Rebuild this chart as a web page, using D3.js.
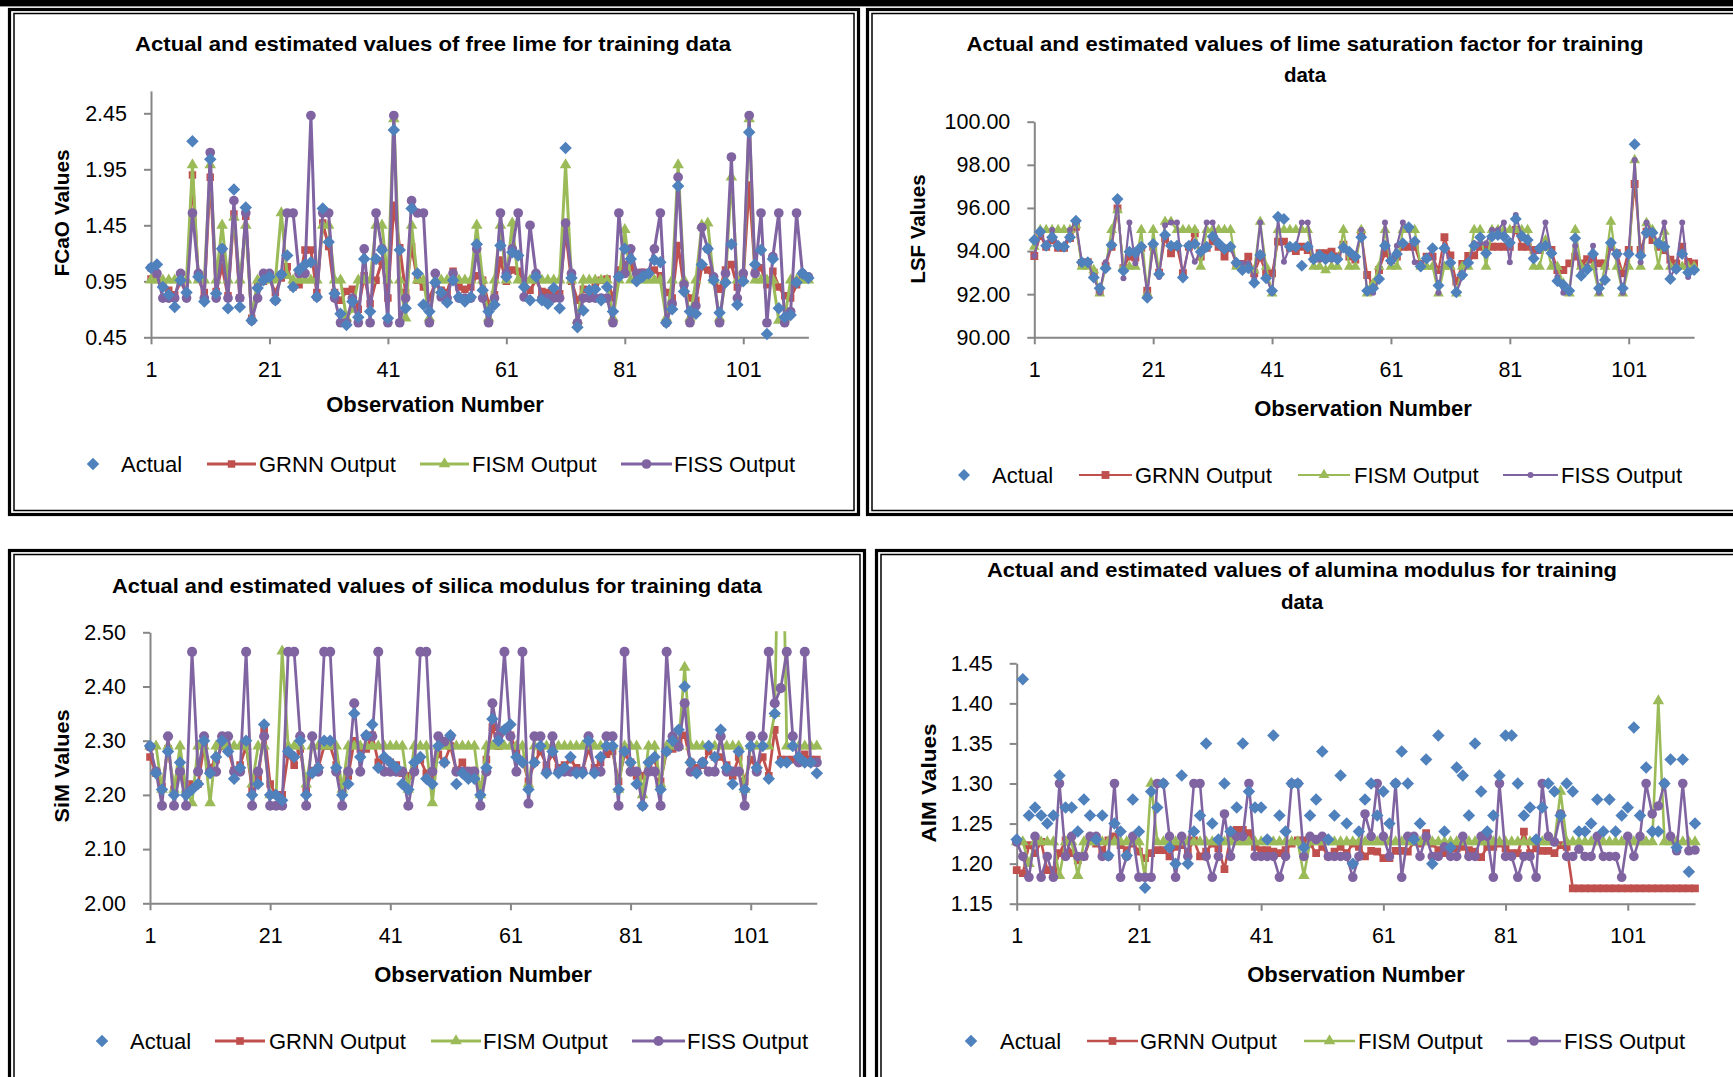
<!DOCTYPE html>
<html>
<head>
<meta charset="utf-8">
<title>Actual and estimated values for training data</title>
<script src="https://cdn.jsdelivr.net/npm/d3@7/dist/d3.min.js"></script>
<style>
  html, body { margin: 0; padding: 0; background: #ffffff; }
  svg { display: block; }
  text { font-family: "Liberation Sans", Arial, sans-serif; fill: #000; }
</style>
</head>
<body>
<svg id="chart" width="1733" height="1077"></svg>
<script>
// ---------------------------------------------------------------
// Categories: observation numbers 1..112
// ---------------------------------------------------------------
const observations = d3.range(1, 113);
const xTickValues = [1, 21, 41, 61, 81, 101];
const seriesNames = ["Actual", "GRNN Output", "FISM Output", "FISS Output"];

// ---------------------------------------------------------------
// Free lime (FCaO)
// ---------------------------------------------------------------
const fcaoTicks = [0.45, 0.95, 1.45, 1.95, 2.45];
const fcaoActual = [
  1.07,1.10,0.90,0.83,0.72,0.96,0.85,2.20,0.99,0.77,
  2.04,0.84,1.24,0.71,1.77,0.72,1.61,0.60,0.89,0.96,
  0.99,0.78,1.01,1.18,0.90,1.05,1.10,1.12,0.81,1.60,
  1.30,0.84,0.66,0.56,0.77,0.63,1.15,0.68,1.15,1.23,
  0.62,2.30,1.23,0.71,1.60,1.02,0.74,0.68,0.94,0.85,
  0.76,0.96,0.81,0.77,0.81,1.28,0.87,0.68,0.74,1.27,
  0.99,1.21,1.18,0.90,0.78,0.99,0.78,0.75,0.89,0.71,
  2.14,0.98,0.54,0.69,0.87,0.88,0.78,0.90,0.68,0.99,
  1.24,1.15,0.95,0.99,1.02,1.14,1.12,0.58,0.70,1.80,
  0.86,0.68,0.66,1.10,1.24,0.96,0.67,0.94,1.28,0.74,
  0.95,2.28,1.10,1.23,0.48,1.15,0.71,0.63,0.65,0.94,
  1.02,0.98];
const fcaoGRNN = [
  0.97,0.99,0.93,0.87,0.83,0.95,0.84,1.90,0.97,0.85,
  1.88,0.86,1.08,0.82,1.55,0.80,1.53,0.62,0.90,0.95,
  0.97,0.85,0.98,1.08,0.90,0.92,1.23,1.23,0.85,1.47,
  1.26,0.85,0.78,0.86,0.88,0.70,1.00,0.75,0.96,1.13,
  0.80,1.63,1.25,0.85,1.26,0.96,0.90,0.80,0.93,0.87,
  0.85,1.04,0.90,0.88,0.90,1.00,0.96,0.75,0.83,1.14,
  0.95,1.05,1.04,0.95,0.87,0.96,0.86,0.85,0.86,0.84,
  1.40,0.95,0.78,0.88,0.86,0.90,0.96,0.97,0.80,1.05,
  1.10,1.08,0.97,1.03,1.02,1.05,1.00,0.85,0.80,1.27,
  0.90,0.80,0.78,1.08,1.05,0.97,0.88,1.05,1.10,0.90,
  0.98,1.81,1.03,1.07,0.92,1.04,0.90,0.82,0.80,0.92,
  0.98,0.97];
const fcaoFISM = [
  0.96,0.96,0.96,0.96,0.96,0.96,0.96,1.99,0.96,0.96,
  1.99,0.96,1.45,0.96,1.52,0.96,1.45,0.62,0.96,0.96,
  0.96,0.96,1.56,1.00,0.96,0.96,0.96,0.96,0.96,1.45,
  1.45,0.96,0.96,0.62,0.70,0.96,0.96,0.96,1.45,1.45,
  0.96,2.40,0.96,0.62,1.45,0.96,0.96,0.62,0.96,0.96,
  0.96,0.96,0.96,0.96,0.96,1.45,0.96,0.62,0.96,1.45,
  0.96,1.47,0.96,0.96,0.96,0.96,0.96,0.96,0.96,0.96,
  1.99,0.96,0.60,0.96,0.96,0.96,0.96,0.96,0.62,0.96,
  1.41,0.96,0.96,0.96,0.96,0.96,0.96,0.62,0.96,1.99,
  0.96,0.62,0.96,1.45,1.47,0.96,0.62,0.96,1.88,0.96,
  0.96,2.40,0.96,0.96,0.96,0.96,0.60,0.62,0.96,0.96,
  0.96,0.96];
const fcaoFISS = [
  1.07,1.02,0.80,0.80,0.80,1.02,0.80,1.56,1.02,0.80,
  2.10,0.80,1.24,0.80,1.67,0.80,1.56,0.60,0.80,1.02,
  1.02,0.78,1.01,1.56,1.56,1.02,1.02,2.43,0.81,1.56,
  1.56,0.80,0.58,0.58,0.80,0.58,1.24,0.58,1.56,1.24,
  0.58,2.43,0.58,0.80,1.67,1.56,1.56,0.58,1.02,0.81,
  0.80,1.02,0.80,0.80,0.80,1.24,0.80,0.58,0.80,1.56,
  1.02,1.24,1.56,0.81,1.45,1.02,0.80,0.80,0.80,0.80,
  1.47,1.02,0.58,0.80,0.80,0.80,0.80,0.80,0.58,1.56,
  1.02,1.24,1.02,1.02,1.02,1.24,1.56,0.58,0.75,1.88,
  0.92,0.58,0.73,1.43,1.24,0.99,0.58,1.02,2.06,0.80,
  1.02,2.43,1.02,1.56,0.58,1.17,1.56,0.58,0.68,1.56,
  1.02,0.99];

// ---------------------------------------------------------------
// Lime saturation factor (LSF)
// ---------------------------------------------------------------
const lsfTicks = [90, 92, 94, 96, 98, 100];
const lsfActual = [
  94.51,94.90,94.25,94.64,94.25,94.20,94.64,95.41,93.48,93.48,
  92.77,92.27,93.20,94.28,96.41,93.09,93.97,93.93,94.20,91.84,
  94.33,92.94,94.75,94.25,94.25,92.77,94.25,94.33,93.97,94.20,
  94.67,94.36,94.10,94.20,93.46,93.12,93.20,92.53,93.82,92.74,
  92.16,95.59,95.49,94.20,94.20,93.32,94.20,93.62,93.82,93.62,
  93.74,93.62,94.17,93.97,93.74,94.64,92.16,92.27,92.70,94.25,
  93.55,93.86,94.36,95.10,94.44,93.28,93.66,94.13,92.40,94.13,
  93.46,92.09,92.89,93.46,94.25,94.64,93.90,94.67,94.75,94.67,
  94.39,95.49,94.70,94.51,93.66,94.13,94.25,93.90,92.61,92.43,
  92.16,94.59,92.86,93.15,93.86,92.27,92.66,94.39,93.86,92.27,
  93.86,98.95,93.79,94.85,94.85,94.36,94.20,92.70,93.17,93.86,
  93.01,93.12];
const lsfGRNN = [
  93.77,94.70,94.20,94.50,94.15,94.15,94.60,95.13,93.45,93.48,
  93.00,92.12,93.30,94.20,95.98,93.20,93.75,93.70,94.15,92.16,
  94.20,93.00,94.60,93.90,94.20,92.97,94.20,94.82,93.75,94.15,
  94.45,94.20,93.74,94.15,93.40,93.40,93.74,92.97,93.70,92.97,
  92.97,94.44,94.44,94.15,94.00,94.20,94.05,93.65,93.90,93.90,
  93.97,93.75,94.30,93.75,93.60,94.82,92.89,92.45,93.12,93.90,
  93.57,93.75,94.20,94.20,94.20,93.40,93.74,93.74,93.12,94.64,
  93.80,92.58,93.40,93.77,93.80,94.20,94.20,94.20,94.20,94.20,
  94.20,94.98,94.20,94.20,94.05,94.05,94.20,94.05,93.12,93.12,
  93.43,93.74,93.43,93.62,93.60,93.43,93.43,94.20,93.90,92.97,
  94.05,97.11,94.05,94.90,94.51,94.20,94.05,93.60,93.43,94.20,
  93.50,93.43];
const lsfFISM = [
  94.20,94.98,94.98,94.98,94.98,94.98,94.98,95.20,93.28,93.28,
  93.12,92.04,93.28,94.98,95.90,93.28,93.28,93.28,94.98,92.04,
  94.98,93.00,95.36,95.36,94.98,94.98,94.98,94.98,93.28,94.98,
  94.98,94.98,94.98,94.98,93.28,93.28,93.28,93.12,95.36,93.28,
  92.04,94.98,94.98,94.98,94.98,94.98,94.98,93.28,93.28,93.12,
  93.28,93.28,94.98,93.28,93.28,94.98,92.04,92.50,93.28,94.98,
  93.28,93.28,94.98,94.98,94.98,93.28,93.28,93.28,92.04,93.28,
  93.28,92.04,93.28,93.28,94.98,94.98,93.28,94.98,94.98,94.98,
  94.98,94.98,94.98,94.98,93.28,93.28,94.50,93.28,93.28,92.50,
  92.04,94.98,93.28,93.28,93.28,92.04,93.28,95.36,93.28,92.04,
  93.28,98.22,93.28,95.30,94.98,93.28,94.90,93.28,93.28,93.28,
  93.28,93.28];
const lsfFISS = [
  93.77,94.90,94.25,94.98,94.25,94.20,94.98,95.35,93.48,93.48,
  92.77,92.07,93.48,94.28,96.30,92.74,95.33,93.43,94.20,92.00,
  94.33,92.80,95.20,95.32,95.32,92.80,94.25,93.50,93.97,95.33,
  95.33,94.36,94.10,94.20,93.46,93.43,93.43,92.70,95.32,92.80,
  92.07,95.50,93.50,94.20,94.20,95.32,95.32,93.60,93.60,93.60,
  93.60,93.60,94.17,93.97,93.74,94.98,92.07,92.07,92.74,95.33,
  93.55,94.25,95.33,94.98,93.48,93.43,93.66,94.13,92.07,94.20,
  93.43,92.07,92.80,93.46,94.36,94.36,94.36,94.98,94.98,95.33,
  93.48,95.67,94.70,94.51,93.74,94.13,95.33,93.90,92.80,92.07,
  92.07,94.25,92.97,93.28,94.25,92.07,92.74,94.25,93.74,92.07,
  93.90,98.22,93.48,95.33,94.82,94.36,95.33,92.80,93.28,95.33,
  92.80,93.09];

// ---------------------------------------------------------------
// Silica modulus (SiM)
// ---------------------------------------------------------------
const simTicks = [2.0, 2.1, 2.2, 2.3, 2.4, 2.5];
const simActual = [
  2.29,2.24,2.21,2.28,2.20,2.26,2.20,2.21,2.22,2.30,
  2.24,2.27,2.30,2.28,2.23,2.25,2.30,2.20,2.22,2.33,
  2.20,2.20,2.19,2.28,2.27,2.30,2.20,2.24,2.25,2.30,
  2.30,2.25,2.20,2.22,2.35,2.27,2.31,2.33,2.25,2.27,
  2.26,2.25,2.22,2.21,2.26,2.27,2.23,2.22,2.29,2.26,
  2.31,2.22,2.24,2.23,2.23,2.20,2.25,2.34,2.30,2.32,
  2.33,2.27,2.26,2.21,2.26,2.29,2.24,2.28,2.24,2.25,
  2.27,2.24,2.24,2.30,2.24,2.27,2.29,2.29,2.21,2.28,
  2.26,2.22,2.18,2.26,2.27,2.21,2.28,2.30,2.32,2.40,
  2.26,2.24,2.26,2.29,2.27,2.32,2.25,2.22,2.28,2.21,
  2.29,2.25,2.29,2.23,2.35,2.26,2.26,2.29,2.27,2.26,
  2.26,2.24];
const simGRNN = [
  2.27,2.24,2.215,2.285,2.21,2.25,2.21,2.22,2.22,2.29,
  2.25,2.265,2.29,2.285,2.245,2.255,2.29,2.21,2.23,2.32,
  2.22,2.20,2.20,2.275,2.255,2.285,2.21,2.245,2.25,2.29,
  2.29,2.255,2.215,2.235,2.30,2.285,2.285,2.31,2.26,2.265,
  2.26,2.255,2.24,2.235,2.255,2.265,2.24,2.235,2.275,2.26,
  2.29,2.245,2.26,2.24,2.245,2.21,2.265,2.325,2.29,2.32,
  2.31,2.28,2.265,2.225,2.26,2.28,2.255,2.275,2.25,2.255,
  2.265,2.25,2.245,2.285,2.25,2.26,2.275,2.28,2.225,2.275,
  2.26,2.235,2.235,2.255,2.265,2.225,2.28,2.285,2.30,2.31,
  2.26,2.25,2.255,2.28,2.27,2.27,2.255,2.235,2.27,2.225,
  2.265,2.25,2.27,2.235,2.32,2.265,2.265,2.265,2.27,2.275,
  2.265,2.265];
const simFISM = [
  2.29,2.29,2.21,2.29,2.21,2.29,2.21,2.185,2.29,2.29,
  2.185,2.29,2.29,2.29,2.29,2.29,2.29,2.22,2.29,2.29,
  2.20,2.20,2.465,2.29,2.29,2.29,2.22,2.29,2.29,2.29,
  2.29,2.29,2.21,2.29,2.29,2.29,2.29,2.29,2.29,2.29,
  2.29,2.29,2.29,2.21,2.29,2.29,2.29,2.185,2.29,2.29,
  2.29,2.29,2.29,2.29,2.29,2.20,2.29,2.29,2.29,2.29,
  2.29,2.29,2.29,2.22,2.29,2.29,2.29,2.29,2.29,2.29,
  2.29,2.29,2.29,2.29,2.29,2.29,2.29,2.29,2.21,2.29,
  2.29,2.29,2.20,2.29,2.29,2.22,2.29,2.29,2.29,2.435,
  2.29,2.29,2.29,2.29,2.29,2.29,2.29,2.29,2.29,2.21,
  2.29,2.29,2.29,2.29,2.35,2.93,2.29,2.29,2.29,2.29,
  2.29,2.29];
const simFISS = [
  2.289,2.243,2.180,2.308,2.180,2.243,2.180,2.464,2.243,2.308,
  2.243,2.243,2.308,2.308,2.243,2.243,2.464,2.180,2.243,2.308,
  2.180,2.180,2.180,2.464,2.464,2.308,2.180,2.308,2.243,2.464,
  2.464,2.243,2.180,2.243,2.369,2.243,2.308,2.308,2.464,2.243,
  2.243,2.243,2.243,2.180,2.243,2.464,2.464,2.243,2.308,2.298,
  2.308,2.243,2.243,2.243,2.243,2.180,2.243,2.369,2.308,2.464,
  2.308,2.243,2.464,2.184,2.308,2.308,2.243,2.308,2.243,2.243,
  2.243,2.243,2.243,2.308,2.243,2.243,2.308,2.308,2.180,2.464,
  2.243,2.243,2.180,2.243,2.243,2.180,2.464,2.308,2.289,2.369,
  2.243,2.243,2.260,2.243,2.243,2.308,2.243,2.243,2.243,2.180,
  2.308,2.243,2.308,2.464,2.369,2.397,2.464,2.308,2.260,2.464,
  2.260,2.260];

// ---------------------------------------------------------------
// Alumina modulus (AlM)
// ---------------------------------------------------------------
const almTicks = [1.15, 1.20, 1.25, 1.30, 1.35, 1.40, 1.45];
const almActual = [
  1.23,1.43,1.26,1.27,1.26,1.25,1.26,1.31,1.27,1.27,
  1.24,1.28,1.26,1.23,1.26,1.21,1.25,1.24,1.21,1.28,
  1.24,1.17,1.29,1.27,1.30,1.22,1.20,1.31,1.20,1.24,
  1.26,1.35,1.25,1.23,1.30,1.24,1.27,1.35,1.29,1.27,
  1.27,1.23,1.36,1.26,1.24,1.30,1.30,1.22,1.26,1.28,
  1.34,1.23,1.26,1.31,1.25,1.20,1.24,1.28,1.30,1.26,
  1.29,1.25,1.30,1.34,1.30,1.23,1.25,1.33,1.20,1.36,
  1.24,1.22,1.32,1.31,1.26,1.35,1.29,1.24,1.26,1.31,
  1.36,1.36,1.30,1.26,1.27,1.23,1.27,1.30,1.29,1.26,
  1.30,1.29,1.24,1.24,1.25,1.28,1.24,1.28,1.24,1.26,
  1.27,1.37,1.26,1.32,1.24,1.24,1.30,1.33,1.22,1.33,
  1.19,1.25];
const almGRNN = [
  1.192,1.188,1.223,1.213,1.227,1.192,1.192,1.213,1.229,1.213,
  1.204,1.209,1.229,1.225,1.217,1.229,1.234,1.223,1.217,1.225,
  1.215,1.207,1.213,1.217,1.217,1.209,1.221,1.223,1.215,1.229,
  1.209,1.215,1.225,1.219,1.193,1.234,1.242,1.242,1.238,1.221,
  1.217,1.217,1.215,1.213,1.217,1.225,1.229,1.229,1.225,1.213,
  1.221,1.209,1.215,1.221,1.213,1.225,1.221,1.209,1.216,1.215,
  1.207,1.207,1.216,1.216,1.215,1.227,1.225,1.238,1.225,1.217,
  1.213,1.219,1.219,1.221,1.217,1.215,1.208,1.221,1.221,1.225,
  1.219,1.213,1.213,1.240,1.213,1.219,1.216,1.216,1.213,1.223,
  1.221,1.169,1.169,1.169,1.169,1.169,1.169,1.169,1.169,1.169,
  1.169,1.169,1.169,1.169,1.169,1.169,1.169,1.169,1.169,1.169,
  1.169,1.169];
const almFISM = [
  1.227,1.227,1.200,1.227,1.227,1.227,1.227,1.185,1.227,1.227,
  1.185,1.227,1.227,1.227,1.227,1.227,1.227,1.227,1.227,1.227,
  1.227,1.183,1.300,1.227,1.227,1.227,1.227,1.227,1.227,1.227,
  1.227,1.227,1.227,1.227,1.227,1.227,1.227,1.227,1.227,1.227,
  1.227,1.227,1.227,1.227,1.227,1.227,1.227,1.185,1.227,1.227,
  1.227,1.227,1.227,1.227,1.227,1.227,1.227,1.227,1.227,1.227,
  1.227,1.227,1.227,1.227,1.227,1.227,1.227,1.227,1.227,1.227,
  1.227,1.227,1.227,1.227,1.227,1.227,1.227,1.227,1.227,1.227,
  1.227,1.227,1.227,1.227,1.227,1.227,1.227,1.227,1.227,1.290,
  1.227,1.227,1.227,1.227,1.227,1.227,1.227,1.227,1.227,1.227,
  1.227,1.227,1.227,1.227,1.227,1.403,1.227,1.227,1.227,1.227,
  1.227,1.227];
const almFISS = [
  1.227,1.209,1.183,1.234,1.183,1.209,1.183,1.300,1.209,1.234,
  1.209,1.209,1.234,1.234,1.209,1.209,1.300,1.183,1.209,1.234,
  1.183,1.183,1.183,1.300,1.300,1.234,1.183,1.234,1.209,1.300,
  1.300,1.209,1.183,1.209,1.262,1.209,1.234,1.234,1.300,1.209,
  1.209,1.209,1.209,1.183,1.209,1.300,1.300,1.209,1.234,1.230,
  1.234,1.209,1.209,1.209,1.209,1.183,1.209,1.262,1.234,1.300,
  1.234,1.209,1.300,1.183,1.234,1.234,1.209,1.234,1.209,1.209,
  1.221,1.209,1.209,1.234,1.209,1.209,1.234,1.234,1.183,1.300,
  1.209,1.209,1.183,1.209,1.209,1.183,1.300,1.234,1.227,1.262,
  1.209,1.209,1.218,1.209,1.209,1.234,1.209,1.209,1.209,1.183,
  1.234,1.209,1.234,1.300,1.262,1.272,1.300,1.234,1.216,1.300,
  1.216,1.217];

// ---------------------------------------------------------------
// Layout and styling of the four charts
// ---------------------------------------------------------------
const COLORS = { actual: "#4F81BD", grnn: "#C0504D", fism: "#9BBB59", fiss: "#8064A2" };
const AXIS_GREY = "#868686";

const panels = [
  {
    frame: { x: 8, y: 8, w: 852, h: 508 },
    title: ["Actual and estimated values of free lime for training data"],
    titleX: 433, titleY: [51], titleLen: [596],
    x0: 151, x1: 808.4, yBottom: 337.3, yTop: 90.9, domain: [0.45, 2.65], ticks: fcaoTicks,
    yTitle: "FCaO Values", yTitleX: 61, yTitleY: 213, yTitleLen: 127,
    xTitleX: 435, xTitleY: 412,
    legendY: 464,
    legend: [[93, 93, 121], [207, 256, 259], [420, 469, 472], [621, 672, 674]],
    lineW: 3, sz: { diamond: 78, square: 56, triangle: 58, circle: 74 },
    data: [fcaoActual, fcaoGRNN, fcaoFISM, fcaoFISS]
  },
  {
    frame: { x: 866, y: 8, w: 900, h: 508 },
    title: ["Actual and estimated values of lime saturation factor for training", "data"],
    titleX: 1305, titleY: [51, 82], titleLen: [677, null],
    x0: 1034.3, x1: 1694.1, yBottom: 337.3, yTop: 121.7, domain: [90, 100], ticks: lsfTicks,
    yTitle: "LSF Values", yTitleX: 917, yTitleY: 229, yTitleLen: 109,
    xTitleX: 1363, xTitleY: 416,
    legendY: 475,
    legend: [[964, 964, 992], [1079, 1132, 1135], [1298, 1350, 1354], [1503, 1558, 1561]],
    lineW: 2.2, sz: { diamond: 72, square: 62, triangle: 50, circle: 28 },
    data: [lsfActual, lsfGRNN, lsfFISM, lsfFISS]
  },
  {
    frame: { x: 8, y: 549, w: 858, h: 560 },
    title: ["Actual and estimated values of silica modulus for training data"],
    titleX: 437, titleY: [593], titleLen: [650],
    x0: 150, x1: 816.8, yBottom: 903.3, yTop: 632.3, domain: [2.0, 2.5], ticks: simTicks,
    yTitle: "SiM Values", yTitleX: 61, yTitleY: 766, yTitleLen: 113,
    xTitleX: 483, xTitleY: 982,
    legendY: 1041,
    legend: [[102, 102, 130], [215, 265, 269], [431, 481, 483], [632, 685, 687]],
    lineW: 2.8, sz: { diamond: 78, square: 58, triangle: 58, circle: 80 },
    data: [simActual, simGRNN, simFISM, simFISS]
  },
  {
    frame: { x: 875, y: 549, w: 900, h: 560 },
    title: ["Actual and estimated values of alumina modulus for training", "data"],
    titleX: 1302, titleY: [577, 609], titleLen: [630, null],
    x0: 1016.7, x1: 1695, yBottom: 903.7, yTop: 663.3, domain: [1.15, 1.45], ticks: almTicks,
    yTitle: "AlM Values", yTitleX: 928, yTitleY: 783, yTitleLen: 119,
    xTitleX: 1356, xTitleY: 982,
    legendY: 1041,
    legend: [[971, 971, 1000], [1087, 1138, 1140], [1304, 1355, 1358], [1507, 1561, 1564]],
    lineW: 2.6, sz: { diamond: 78, square: 60, triangle: 58, circle: 72 },
    data: [almActual, almGRNN, almFISM, almFISS]
  }
];

const svg = d3.select("#chart");

// thick rule across the top edge
svg.append("rect").attr("x", 0).attr("y", 0).attr("width", 1733).attr("height", 6.4).attr("fill", "#000");

const symbolFor = {
  diamond: d3.symbolSquare,
  square: d3.symbolSquare,
  triangle: d3.symbolTriangle,
  circle: d3.symbolCircle
};
const seriesStyle = [
  { key: "actual", shape: "diamond", line: false },
  { key: "grnn", shape: "square", line: true },
  { key: "fism", shape: "triangle", line: true },
  { key: "fiss", shape: "circle", line: true }
];

function drawMarker(g, shape, size, color, cx, cy) {
  const path = d3.symbol().type(symbolFor[shape]).size(size)();
  g.append("path")
    .attr("d", path)
    .attr("fill", color)
    .attr("transform", `translate(${cx},${cy})` + (shape === "diamond" ? " rotate(45)" : ""));
}

panels.forEach((p, pi) => {
  const g = svg.append("g").attr("class", "panel");

  // double border
  const f = p.frame;
  g.append("rect").attr("x", f.x + 1.5).attr("y", f.y + 1.5).attr("width", f.w - 3).attr("height", f.h - 3)
    .attr("fill", "none").attr("stroke", "#000").attr("stroke-width", 3.2);
  g.append("rect").attr("x", f.x + 6).attr("y", f.y + 5.5).attr("width", f.w - 12).attr("height", f.h - 11)
    .attr("fill", "none").attr("stroke", "#000").attr("stroke-width", 1.5);

  // title
  p.title.forEach((t, k) => {
    const tt = g.append("text")
      .attr("x", p.titleX).attr("y", p.titleY[k])
      .attr("text-anchor", "middle")
      .attr("font-weight", "bold").attr("font-size", 20.5)
      .text(t);
    if (p.titleLen[k]) tt.attr("textLength", p.titleLen[k]).attr("lengthAdjust", "spacingAndGlyphs");
  });

  const x = d3.scaleLinear().domain([1, observations.length]).range([p.x0, p.x1]);
  const y = d3.scaleLinear().domain(p.domain).range([p.yBottom, p.yTop]);

  // axes
  const yAxis = d3.axisLeft(y).tickValues(p.ticks).tickFormat(d3.format(".2f"))
    .tickSizeInner(7).tickSizeOuter(0).tickPadding(17);
  const ya = g.append("g").attr("transform", `translate(${p.x0},0)`).call(yAxis);
  const xAxis = d3.axisBottom(x).tickValues(xTickValues).tickFormat(d3.format("d"))
    .tickSizeInner(7).tickSizeOuter(0).tickPadding(17);
  const xa = g.append("g").attr("transform", `translate(0,${p.yBottom})`).call(xAxis);
  [ya, xa].forEach(a => {
    a.attr("font-family", null).attr("font-size", null);
    a.select(".domain").attr("stroke", AXIS_GREY).attr("stroke-width", 2);
    a.selectAll(".tick line").attr("stroke", AXIS_GREY).attr("stroke-width", 2);
    a.selectAll(".tick text").attr("fill", "#000").attr("font-size", 21.5)
      .style("font-family", '"Liberation Sans", Arial, sans-serif');
  });

  // axis titles
  g.append("text")
    .attr("x", p.xTitleX).attr("y", p.xTitleY)
    .attr("text-anchor", "middle").attr("font-weight", "bold").attr("font-size", 22)
    .text("Observation Number");
  g.append("text")
    .attr("transform", `translate(${p.yTitleX + 8},${p.yTitleY}) rotate(-90)`)
    .attr("text-anchor", "middle").attr("font-weight", "bold").attr("font-size", 21)
    .attr("textLength", p.yTitleLen).attr("lengthAdjust", "spacingAndGlyphs")
    .text(p.yTitle);

  // plot area clip
  const clipId = "clip" + pi;
  svg.append("clipPath").attr("id", clipId).append("rect")
    .attr("x", p.x0 - 14).attr("y", p.yTop - 1)
    .attr("width", p.x1 - p.x0 + 28).attr("height", p.yBottom - p.yTop + 16);

  const plot = g.append("g").attr("clip-path", `url(#${clipId})`);
  const line = d3.line().x((d, i) => x(observations[i])).y(d => y(d));

  // estimated series first, actual values on top
  [1, 2, 3, 0].forEach(si => {
    const st = seriesStyle[si];
    const values = p.data[si];
    const color = COLORS[st.key];
    const sg = plot.append("g");
    if (st.line) {
      sg.append("path").datum(values).attr("d", line)
        .attr("fill", "none").attr("stroke", color)
        .attr("stroke-width", p.lineW).attr("stroke-linejoin", "round");
    }
    values.forEach((v, i) => drawMarker(sg, st.shape, p.sz[st.shape], color, x(observations[i]), y(v)));
  });

  // legend
  seriesStyle.forEach((st, si) => {
    const [l0, l1, tx] = p.legend[si];
    const color = COLORS[st.key];
    if (st.line) {
      g.append("line").attr("x1", l0).attr("x2", l1).attr("y1", p.legendY).attr("y2", p.legendY)
        .attr("stroke", color).attr("stroke-width", p.lineW);
    }
    drawMarker(g, st.shape, p.sz[st.shape], color, (l0 + l1) / 2, p.legendY);
    g.append("text").attr("x", tx).attr("y", p.legendY + 8)
      .attr("font-size", 22).text(seriesNames[si]);
  });
});
</script>
</body>
</html>
